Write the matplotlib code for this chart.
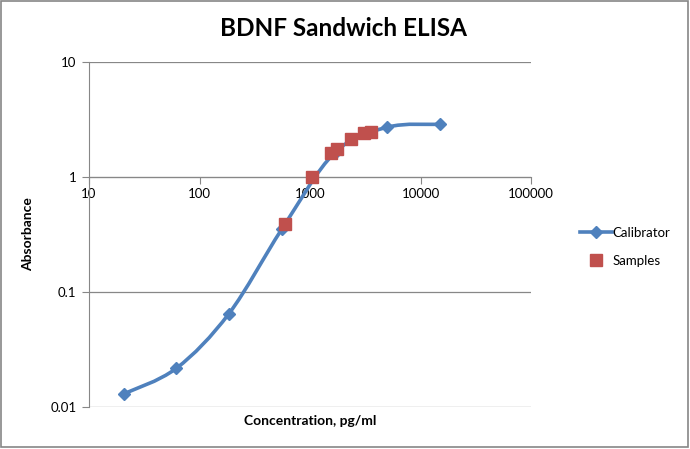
import numpy as np
import matplotlib
matplotlib.use("Agg")
import matplotlib.pyplot as plt
from matplotlib.path import Path
from matplotlib.patches import PathPatch, Rectangle
from matplotlib.lines import Line2D
from matplotlib.ticker import FixedLocator, FuncFormatter

plt.rcParams["font.family"] = ["Lato", "DejaVu Sans"]

# calibrator standards (pg/ml) and absorbance
cal_conc = [20.6, 61.7, 185, 556, 1667, 5000, 15000]
cal_abs = [0.013, 0.0217, 0.065, 0.352, 1.62, 2.71, 2.87]

# samples
smp_conc = [594, 1035, 1538, 1766, 2333, 3083, 3540]
smp_abs = [0.39, 1.0, 1.61, 1.74, 2.14, 2.40, 2.45]

x_ticks = [10, 100, 1000, 10000, 100000]
y_ticks = [0.01, 0.1, 1, 10]

BLUE = "#4F81BD"
RED = "#C0504D"
GRID = "#878787"
TEXT = "#000000"


def smooth_path(xs, ys, k=1 / 6):
    # Excel-style smoothed line: cubic bezier segments built in log space
    lx = np.log10(xs)
    ly = np.log10(ys)
    n = len(lx)
    verts = [(lx[0], ly[0])]
    codes = [Path.MOVETO]
    for i in range(n - 1):
        p0 = (lx[max(i - 1, 0)], ly[max(i - 1, 0)])
        p1 = (lx[i], ly[i])
        p2 = (lx[i + 1], ly[i + 1])
        p3 = (lx[min(i + 2, n - 1)], ly[min(i + 2, n - 1)])
        c1 = (p1[0] + (p2[0] - p0[0]) * k, p1[1] + (p2[1] - p0[1]) * k)
        c2 = (p2[0] - (p3[0] - p1[0]) * k, p2[1] - (p3[1] - p1[1]) * k)
        verts += [c1, c2, p2]
        codes += [Path.CURVE4] * 3
    verts = [(10 ** a, 10 ** b) for a, b in verts]
    return Path(verts, codes)


fig = plt.figure(figsize=(6.9, 4.49), dpi=100)
ax = fig.add_axes([89 / 690, 1 - 407 / 449, (531 - 89) / 690, (407 - 62) / 449])

ax.set_xscale("log")
ax.set_yscale("log")
ax.set_xlim(10, 100000)
ax.set_ylim(0.01, 10)

patch = PathPatch(smooth_path(cal_conc, cal_abs), transform=ax.transData,
                  fill=False, edgecolor=BLUE, lw=2.6, zorder=3)
ax.add_patch(patch)
ax.plot(cal_conc, cal_abs, ls="none", marker="D", ms=6.5, color=BLUE, zorder=4)
ax.plot(smp_conc, smp_abs, ls="none", marker="s", ms=9, color=RED, zorder=5)

# horizontal axis crosses at 1
ax.spines["bottom"].set_position(("data", 1))
ax.spines["top"].set_visible(False)
ax.spines["right"].set_visible(False)
ax.spines["bottom"].set_color(GRID)
ax.spines["left"].set_color(GRID)
ax.spines["bottom"].set_zorder(1)

ax.xaxis.set_major_locator(FixedLocator(x_ticks))
ax.yaxis.set_major_locator(FixedLocator(y_ticks))
fmt = FuncFormatter(lambda v, p: f"{v:g}")
ax.xaxis.set_major_formatter(fmt)
ax.yaxis.set_major_formatter(fmt)
ax.minorticks_off()
ax.tick_params(axis="both", direction="out", length=5, color=GRID,
               labelsize=9.5, labelcolor=TEXT)
ax.tick_params(axis="x", pad=3)
ax.tick_params(axis="y", pad=4)

ax.yaxis.grid(True, color=GRID, lw=0.9)
ax.set_axisbelow(True)

ax.set_xlabel("Concentration, pg/ml", fontsize=10, fontweight="bold")
ax.xaxis.set_label_coords(0.5, -0.023)
ax.set_ylabel("Absorbance", fontsize=10, fontweight="bold")
ax.yaxis.set_label_coords(-0.125, 0.5)

fig.text(344 / 690, 1 - 29 / 449, "BDNF Sandwich ELISA", ha="center", va="center",
         fontsize=17.5, fontweight="bold")

handles = [
    Line2D([], [], color=BLUE, lw=2.6, marker="D", ms=6.5),
    Line2D([], [], ls="none", marker="s", ms=9, color=RED),
]
fig.legend(handles, ["Calibrator", "Samples"], loc="center left",
           bbox_to_anchor=(568 / 690, 1 - 247 / 449), frameon=False,
           fontsize=9.5, handlelength=2.4, handletextpad=0.1, labelspacing=1.2)

fig.patches.append(Rectangle((0.002, 0.004), 0.995, 0.993, transform=fig.transFigure,
                             fill=False, edgecolor="#868686", lw=1.2))

fig.savefig("out.png", dpi=100, facecolor="white")
